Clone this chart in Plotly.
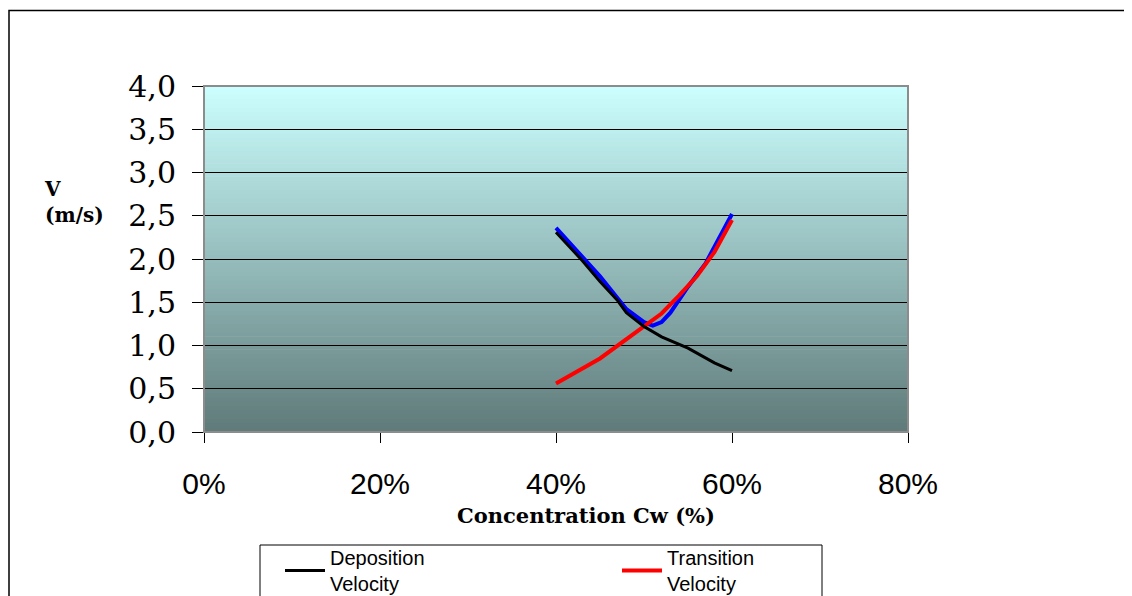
import plotly.graph_objects as go

# ---- data ----
dep_x = [0.40, 0.43, 0.45, 0.47, 0.48, 0.50, 0.52, 0.55, 0.58, 0.60]
dep_y = [2.31, 1.98, 1.74, 1.52, 1.38, 1.22, 1.10, 0.97, 0.80, 0.71]

blue_x = [0.40, 0.45, 0.48, 0.50, 0.51, 0.52, 0.53, 0.55, 0.57, 0.585, 0.60]
blue_y = [2.36, 1.80, 1.42, 1.27, 1.23, 1.27, 1.38, 1.68, 1.95, 2.23, 2.52]

tr_x = [0.40, 0.45, 0.50, 0.52, 0.54, 0.56, 0.58, 0.60]
tr_y = [0.56, 0.85, 1.22, 1.37, 1.58, 1.80, 2.08, 2.45]

x_ticks = [0, 0.2, 0.4, 0.6, 0.8]
x_ticklabels = ["0%", "20%", "40%", "60%", "80%"]
y_ticks = [0, 0.5, 1, 1.5, 2, 2.5, 3, 3.5, 4]
y_ticklabels = ["0,0", "0,5", "1,0", "1,5", "2,0", "2,5", "3,0", "3,5", "4,0"]

W, H = 1124, 588
OFF = 8  # page body margin

# page-pixel helpers (plot area spans page x 204..908, y 86..432)
def px(X):
    return (X - 204) / 704

def py(Y):
    return (432 - Y) / 346

def cx(X):
    return (X - OFF) / W

def cy(Y):
    return 1 - (Y - OFF) / H

fig = go.Figure()
fig.add_trace(go.Scatter(x=blue_x, y=blue_y, mode="lines", line=dict(color="#0000FF", width=4),
                         showlegend=False, hoverinfo="skip"))
fig.add_trace(go.Scatter(x=tr_x, y=tr_y, mode="lines", line=dict(color="#FF0000", width=4),
                         name="Transition<br>Velocity", legendrank=2))
fig.add_trace(go.Scatter(x=dep_x, y=dep_y, mode="lines", line=dict(color="#000000", width=3),
                         name="Deposition<br>Velocity", legendrank=1))

# gradient background in plot area
shapes = []
n = 80
top = (0xCC, 0xFF, 0xFF)
bot = (0x5F, 0x7A, 0x79)
for i in range(n):
    t = (i + 0.5) / n
    c = tuple(round(bot[k] + (top[k] - bot[k]) * t) for k in range(3))
    shapes.append(dict(type="rect", xref="x domain", yref="y domain", x0=0, x1=1,
                       y0=i / n, y1=(i + 1) / n + 0.002, line=dict(width=0),
                       fillcolor="rgb(%d,%d,%d)" % c, layer="below"))
# plot area border (gray)
shapes.append(dict(type="rect", xref="x domain", yref="y domain", x0=0, x1=1, y0=0, y1=1,
                   line=dict(color="#8C8C8C", width=2), layer="above"))
# outer chart border
shapes.append(dict(type="rect", xref="paper", yref="paper", x0=px(9), x1=px(1400), y0=py(800), y1=py(10.5),
                   line=dict(color="#000000", width=1.5)))
# legend box
shapes.append(dict(type="rect", xref="paper", yref="paper", x0=px(260), x1=px(822),
                   y0=py(640), y1=py(545), line=dict(color="#000000", width=1)))
fig.update_layout(shapes=shapes)

fig.update_layout(
    width=W, height=H,
    margin=dict(l=196, r=224, t=78, b=164, autoexpand=False),
    paper_bgcolor="white", plot_bgcolor="rgba(0,0,0,0)",
    xaxis=dict(range=[0, 0.8], tickvals=x_ticks, ticktext=x_ticklabels,
               ticks="outside", ticklen=10, tickcolor="black", tickwidth=1,
               ticklabelstandoff=15, showgrid=False, zeroline=False,
               showline=True, linecolor="black", linewidth=1, automargin=False,
               tickfont=dict(family="Liberation Sans, Arial", size=30, color="black")),
    yaxis=dict(range=[0, 4], tickvals=y_ticks, ticktext=y_ticklabels,
               ticks="outside", ticklen=11, tickcolor="black", tickwidth=1,
               ticklabelstandoff=10, showgrid=True, gridcolor="black", gridwidth=1,
               zeroline=False, showline=False, automargin=False,
               tickfont=dict(family="DejaVu Serif", size=30, color="black")),
    showlegend=True,
    legend=dict(orientation="h", xref="container", yref="container",
                x=cx(280), y=cy(538), xanchor="left", yanchor="top",
                entrywidth=282, entrywidthmode="pixels", bgcolor="rgba(0,0,0,0)", borderwidth=0,
                font=dict(family="Liberation Sans, Arial", size=20, color="black"), itemwidth=40,
                traceorder="normal"),
    annotations=[
        dict(text="<b>Concentration Cw (%)</b>", xref="paper", yref="paper",
             x=px(586), y=py(515), showarrow=False, xanchor="center", yanchor="middle",
             font=dict(family="DejaVu Serif", size=21, color="black")),
        dict(text="<b>V</b><br><b>(m/s)</b>", xref="paper", yref="paper", align="left",
             x=px(42), y=py(202), showarrow=False, xanchor="left", yanchor="middle",
             font=dict(family="DejaVu Serif", size=20, color="black")),
    ],
)

fig.write_html("out.html")
